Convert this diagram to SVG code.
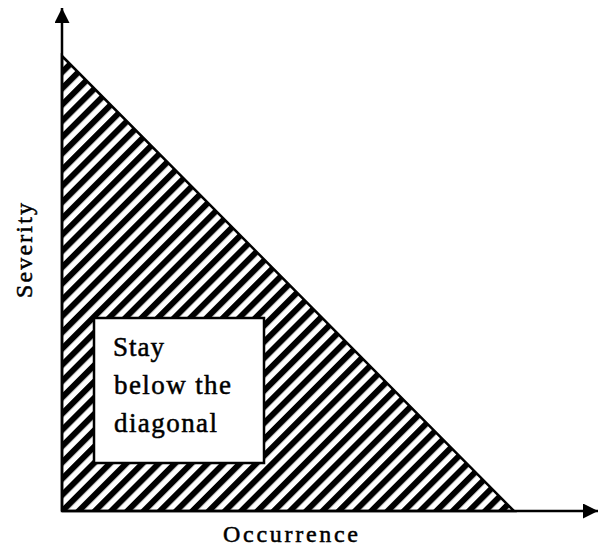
<svg xmlns="http://www.w3.org/2000/svg" width="598" height="550" viewBox="0 0 598 550">
<style>
.lbl{font-family:"Liberation Serif","Times New Roman",serif;fill:#000;stroke:#000;stroke-width:0.5}
.ax{stroke:#000;stroke-width:2.5;fill:none}
</style>
<defs>
<pattern id="hatch" patternUnits="userSpaceOnUse" width="11.5" height="11.5" patternTransform="rotate(45)">
<rect x="0" y="0" width="11.5" height="11.5" fill="#fff"/>
<rect x="0" y="0" width="6" height="11.5" fill="#000"/>
</pattern>
<marker id="arr" markerWidth="16" markerHeight="16" refX="15" refY="7.5" orient="auto" markerUnits="userSpaceOnUse">
<path d="M0,0 L15,7.5 L0,15 Z" fill="#000"/>
</marker>
</defs>
<rect width="598" height="550" fill="#fff"/>
<g id="region">
<path d="M62,56 L514,511 L62,511 Z" fill="url(#hatch)" stroke="#000" stroke-width="2.5" stroke-linejoin="miter"/>
</g>
<g id="connectors">
<line class="ax" x1="62" y1="511" x2="62" y2="8" marker-end="url(#arr)"/>
<line class="ax" x1="62" y1="511" x2="598" y2="511" marker-end="url(#arr)"/>
</g>
<g id="note">
<rect x="94" y="318" width="170" height="145" fill="#fff" stroke="#000" stroke-width="2.5"/>
<text class="lbl" x="113" y="356" font-size="27" textLength="51" lengthAdjust="spacing">Stay</text>
<text class="lbl" x="114" y="394" font-size="27" textLength="117" lengthAdjust="spacing">below the</text>
<text class="lbl" x="114" y="432" font-size="27" textLength="103" lengthAdjust="spacing">diagonal</text>
</g>
<g id="xlabel">
<text class="lbl" x="223" y="542" font-size="24" textLength="135" lengthAdjust="spacing">Occurrence</text>
</g>
<g id="ylabel">
<text class="lbl" transform="translate(32,298) rotate(-90)" x="0" y="0" font-size="24" textLength="95" lengthAdjust="spacing">Severity</text>
</g>
</svg>
